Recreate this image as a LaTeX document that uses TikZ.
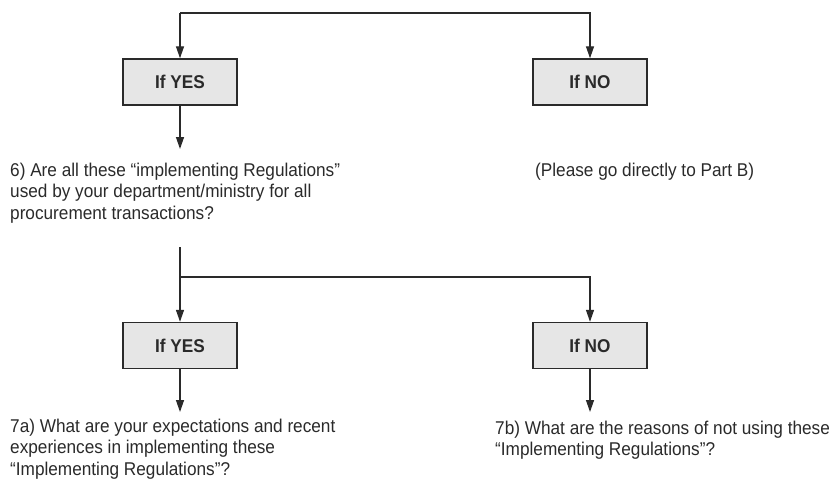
\documentclass[tikz,border=0pt]{standalone}
\usepackage{fontspec}
\setmainfont{Liberation Sans}[FakeStretch=0.93]
\usetikzlibrary{arrows.meta}
\definecolor{inkcol}{HTML}{2A2A2A}
\definecolor{boxfill}{HTML}{E6E6E6}
\tikzset{
  conn/.style={line width=1.3pt, draw=inkcol},
  arr/.style={conn, -{Triangle[width=8pt,length=12pt]}},
  choicebox/.style={draw=inkcol, fill=boxfill, line width=1.4pt, minimum width=114pt, minimum height=46pt, inner sep=0pt, text=inkcol, font=\fontsize{18.5}{21.5}\selectfont\bfseries},
  qtext/.style={anchor=north west, inner sep=0pt, align=left, text=inkcol, font=\fontsize{18.5}{21.5}\selectfont}
}
\begin{document}
\begin{tikzpicture}[x=1pt,y=-1pt]
\useasboundingbox (0,0) rectangle (829,480);
% first level
\coordinate (t1) at (180,13);
\coordinate (t2) at (590,13);
\node[choicebox] (yes1) at (180,82) {If YES};
\node[choicebox] (no1) at (590,82) {If NO};
\node[qtext] (q6) at (10,162.5) {6) Are all these “implementing Regulations”\\used by your department/ministry for all\\procurement transactions?};
\node[qtext] (goB) at (535,162.5) {(Please go directly to Part B)};
\coordinate (e1) at (180,149);
\draw[arr] (t1) -- (yes1);
\draw[arr] (t1) -- (t2) -- (no1);
\draw[arr] (yes1) -- (e1);
% second level
\coordinate (s0) at (180,247);
\coordinate (s1) at (180,277);
\coordinate (s2) at (590,277);
\node[choicebox] (yes2) at (180,345.5) {If YES};
\node[choicebox] (no2) at (590,345.5) {If NO};
\coordinate (e2) at (180,412);
\coordinate (e3) at (590,412);
\node[qtext] (q7a) at (10,418.5) {7a) What are your expectations and recent\\experiences in implementing these\\“Implementing Regulations”?};
\node[qtext] (q7b) at (495,420.5) {7b) What are the reasons of not using these\\“Implementing Regulations”?};
\draw[arr] (s0) -- (yes2);
\draw[arr] (s1) -- (s2) -- (no2);
\draw[arr] (yes2) -- (e2);
\draw[arr] (no2) -- (e3);
\end{tikzpicture}
\end{document}
